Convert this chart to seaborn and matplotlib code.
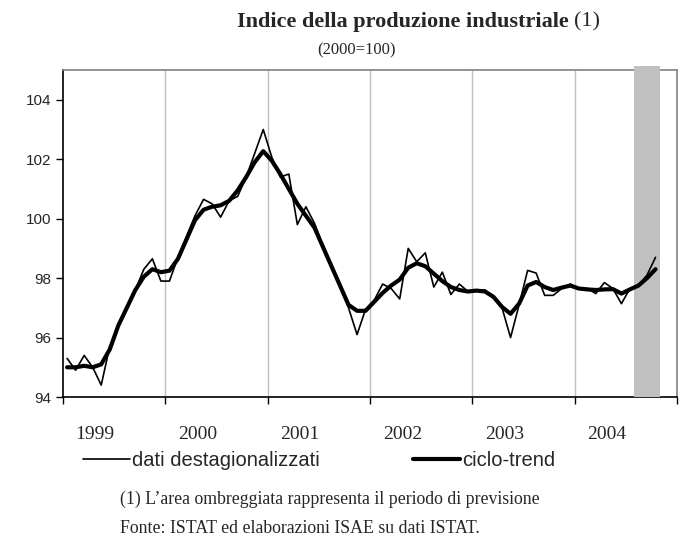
import numpy as np
import pandas as pd
import matplotlib.pyplot as plt
import seaborn as sns

# monthly data, Jan 1999 - Oct 2004
years = ['1999', '2000', '2001', '2002', '2003', '2004']

dati_destag = [
    95.3, 94.9, 95.4, 95.0, 94.4, 95.7, 96.4, 97.0, 97.6, 98.3, 98.65, 97.9,
    97.9, 98.7, 99.4, 100.1, 100.65, 100.5, 100.05, 100.6, 100.75, 101.4, 102.2, 103.0,
    102.07, 101.4, 101.5, 99.8, 100.4, 99.85, 99.1, 98.4, 97.75, 97.0, 96.1, 96.95,
    97.25, 97.8, 97.65, 97.3, 99.0, 98.55, 98.85, 97.7, 98.2, 97.45, 97.8, 97.55,
    97.6, 97.6, 97.35, 97.0, 96.0, 97.1, 98.26, 98.17, 97.42, 97.42, 97.65, 97.8,
    97.65, 97.65, 97.48, 97.85, 97.65, 97.14, 97.65, 97.76, 98.1, 98.7,
]

ciclo_trend = [
    95.0, 95.0, 95.05, 95.0, 95.1, 95.6, 96.4, 97.0, 97.6, 98.05, 98.3, 98.2,
    98.25, 98.65, 99.3, 99.95, 100.3, 100.4, 100.45, 100.6, 100.95, 101.4, 101.9, 102.27,
    101.95, 101.5, 101.0, 100.5, 100.1, 99.7, 99.05, 98.4, 97.75, 97.1, 96.9, 96.9,
    97.2, 97.5, 97.75, 97.95, 98.35, 98.5, 98.4, 98.15, 97.9, 97.7, 97.6, 97.55,
    97.58, 97.55, 97.37, 97.03, 96.8, 97.14, 97.75, 97.87, 97.7, 97.6, 97.68, 97.75,
    97.65, 97.62, 97.6, 97.62, 97.63, 97.48, 97.62, 97.75, 98.0, 98.3,
]

# forecast months (Aug - Oct 2004)
forecast_months = [67, 68, 69]

df = pd.DataFrame({
    'mese': np.arange(len(dati_destag)),
    'dati destagionalizzati': dati_destag,
    'ciclo-trend': ciclo_trend,
})

sns.set_style('white')
plt.rcParams['font.family'] = ['Liberation Serif', 'DejaVu Serif']

fig = plt.figure(figsize=(6.83, 5.58), dpi=100)
ax = fig.add_axes([0.092, 0.2885, 0.899, 0.586])

n_months = 12 * len(years)
boundaries = np.arange(0, n_months + 1, 12) - 0.5

for b in boundaries[1:-1]:
    ax.axvline(b, color='#c0c0c0', lw=1, zorder=1)

ax.axvspan(forecast_months[0] - 0.5, forecast_months[-1] + 0.5, ymin=0, ymax=1.012,
           color='#c0c0c0', lw=0, zorder=3, clip_on=False)

sns.lineplot(data=df, x='mese', y='dati destagionalizzati', ax=ax, color='black',
             lw=1.2, label='dati destagionalizzati', zorder=4)
sns.lineplot(data=df, x='mese', y='ciclo-trend', ax=ax, color='black',
             lw=3, label='ciclo-trend', zorder=5)

ax.set_xlim(-0.5, n_months - 0.5)
ax.set_ylim(94, 105)
ax.set_yticks(np.arange(94, 105, 2))
ax.set_yticklabels([str(v) for v in range(94, 105, 2)], family='Liberation Sans', fontsize=11)
ax.set_xticks(boundaries)
ax.set_xticklabels([])
# year labels sit left of the year centre, as in the original
ax.set_xticks(np.arange(3.3, n_months, 12), minor=True)
ax.set_xticklabels(years, minor=True, fontsize=14)
ax.tick_params(axis='x', which='major', direction='out', length=5, width=1, color='black', bottom=True)
ax.tick_params(axis='x', which='minor', length=0, pad=21)
ax.tick_params(axis='y', direction='out', length=5, width=1, color='black', left=True, pad=3)
ax.set_xlabel('')
ax.set_ylabel('')

for side in ['left', 'bottom']:
    ax.spines[side].set_color('black')
    ax.spines[side].set_linewidth(1.2)
for side in ['top', 'right']:
    ax.spines[side].set_color('#808080')
    ax.spines[side].set_linewidth(1.2)

handles, labels = ax.get_legend_handles_labels()
ax.get_legend().remove()
fig.legend(handles, labels, loc='center', bbox_to_anchor=(0.467, 0.175), ncol=2,
           frameon=False, prop={'family': 'Liberation Sans', 'size': 14.5},
           handlelength=2.35, handletextpad=0.1, columnspacing=4.6)

fig.text(0.833, 0.961, 'Indice della produzione industriale', ha='right', va='center',
         fontsize=16, fontweight='bold')
fig.text(0.841, 0.961, '(1)', ha='left', va='center', fontsize=16)
fig.text(0.522, 0.910, '(2000=100)', ha='center', va='center', fontsize=12)

fig.text(0.176, 0.105, "(1) L\u2019area ombreggiata rappresenta il periodo di previsione",
         ha='left', va='center', fontsize=12.8)
fig.text(0.176, 0.052, 'Fonte: ISTAT ed elaborazioni ISAE su dati ISTAT.',
         ha='left', va='center', fontsize=12.8)

fig.savefig('out.png', dpi=100)
